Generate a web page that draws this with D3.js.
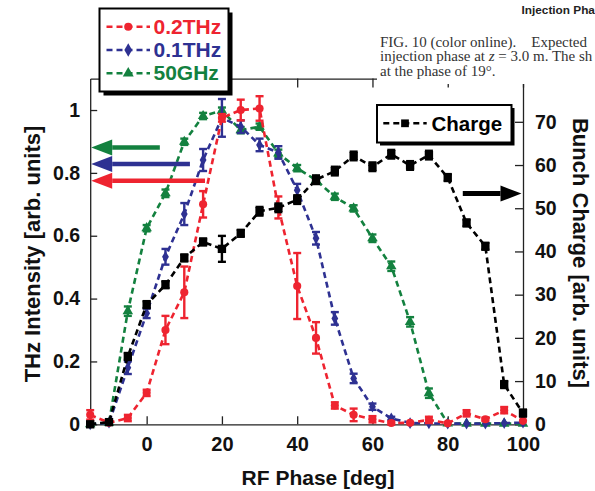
<!DOCTYPE html>
<html><head><meta charset="utf-8">
<script src="https://cdn.jsdelivr.net/npm/d3@7"></script>
<style>
body{margin:0;background:#fff;}
svg{display:block;}
text{font-family:"Liberation Sans",Arial,sans-serif;}
</style></head><body>
<svg id="chart" width="595" height="491"></svg>
<script>
// ---------- data ----------
const phase   = [-15,-10,-5,0,5,10,15,20,25,30,35,40,45,50,55,60,65,70,75,80,85,90,95,100];
const thz02   = [0.03,0.005,0.02,0.10,0.30,0.42,0.70,0.975,1.0,1.005,0.69,0.44,0.275,0.06,0.03,0.016,0.004,0.005,0.014,0.003,0.035,0.016,0.045,0.011];
const thz02Err= [0.015,0,0.01,0.01,0.045,0.082,0.042,0.012,0.033,0.039,0.035,0.105,0.05,0.01,0.02,0.01,0.005,0,0.01,0,0.01,0.005,0.01,0];
const thz01   = [0,0.005,0.18,0.353,0.533,0.669,0.841,0.975,0.947,0.889,0.865,0.745,0.592,0.337,0.146,0.056,0.019,0.004,0.003,0.002,0.002,0.002,0.004,0.005];
const thz01Err= [0,0,0.02,0.015,0.025,0.035,0.035,0.06,0.02,0.02,0.02,0.02,0.02,0.02,0.015,0.01,0.005,0,0,0,0,0,0,0];
const ghz50   = [0,0.005,0.36,0.624,0.735,0.899,0.981,0.998,0.936,0.947,0.862,0.815,0.777,0.724,0.687,0.592,0.503,0.326,0.099,0.003,0.002,0.002,0.002,0.002];
const ghz50Err= [0,0,0.015,0.01,0.012,0.01,0.01,0.01,0.01,0.01,0.012,0.01,0.01,0.01,0.01,0.012,0.015,0.015,0.015,0,0,0,0,0];
const charge  = [0,0.5,15.7,27.7,32.3,38.5,42.2,40.6,44.2,49.3,50.1,52.0,56.6,58.6,62.1,59.6,62.5,59.9,62.3,57.1,46.6,41.2,9.2,2.6];
const chargeErr=[0,0,0.8,0.8,0.8,0.8,0.8,3,0.8,1,1,1,1,1,1,1,1,1,1,0.8,0.8,0.8,0.8,0.8];
const xTicks  = [0,20,40,60,80,100];
const yLTicks = [0,0.2,0.4,0.6,0.8,1];
const yRTicks = [0,10,20,30,40,50,60,70];
const legendLabels = ["0.2THz","0.1THz","50GHz"];
const chargeLabel = "Charge";
// annotation arrows (level in data units, start phase)
const leftArrows = [{level:0.881, from:3.5, c:"green"},{level:0.828, from:11.5, c:"blue"},{level:0.775, from:15.5, c:"red"}];
const rightArrow = {level:53.4, from:84, to:99.6};

const COL = {red:"#ee2430", blue:"#2e3192", green:"#13813f", black:"#000"};

// ---------- scales ----------
const svg=d3.select("#chart");
const x=d3.scaleLinear().domain([-15,100]).range([90.2,523]);
const yL=d3.scaleLinear().domain([0,1.1]).range([424.3,78.6]);
const yR=d3.scaleLinear().domain([0,80]).range([424.3,78.6]);

function styleAxis(g,fs){
  g.attr("font-size",null).attr("font-family",null);
  g.selectAll("path.domain").attr("stroke","#222").attr("stroke-width",1.3);
  g.selectAll(".tick line").attr("stroke","#222").attr("stroke-width",1.3);
  g.selectAll("text").attr("font-size",fs).attr("font-weight","bold").attr("fill","#111")
    .style("font-family","'Liberation Sans',Arial,sans-serif");
}

// axes
const gTop=svg.append("g").attr("transform",`translate(0,${yL(1.1)})`)
  .call(d3.axisTop(x).tickValues(xTicks).tickSizeInner(-9).tickSizeOuter(0).tickFormat(""));
styleAxis(gTop,20);
const gx=svg.append("g").attr("transform",`translate(0,${yL(0)})`)
  .call(d3.axisBottom(x).tickValues(xTicks).tickSizeInner(-8).tickSizeOuter(0).tickPadding(13).tickFormat(d3.format("d")));
styleAxis(gx,20);
const gl=svg.append("g").attr("transform",`translate(${x(-15)},0)`)
  .call(d3.axisLeft(yL).tickValues(yLTicks).tickSizeInner(-7).tickSizeOuter(0).tickPadding(10)
    .tickFormat(d=> d===0?"0":(d===1?"1":d3.format(".1f")(d))));
styleAxis(gl,19.5);
const gr=svg.append("g").attr("transform",`translate(${x(100)},0)`)
  .call(d3.axisRight(yR).tickValues(yRTicks).tickSizeInner(-8).tickSizeOuter(0).tickPadding(12).tickFormat(d3.format("d")));
styleAxis(gr,19.5);

// axis titles
svg.append("text").attr("x",318).attr("y",485).attr("text-anchor","middle")
  .attr("font-size",21).attr("font-weight","bold").attr("fill","#111").text("RF Phase [deg]");
svg.append("text").attr("transform","translate(40,254) rotate(-90)").attr("text-anchor","middle")
  .attr("font-size",22).attr("font-weight","bold").attr("fill","#111").text("THz Intensity [arb. units]");
svg.append("text").attr("transform","translate(573,253) rotate(90)").attr("text-anchor","middle")
  .attr("font-size",22).attr("font-weight","bold").attr("fill","#111").text("Bunch Charge [arb. units]");

// ---------- series ----------
function drawSeries(vals, errs, scale, color, shape, size){
  const g=svg.append("g");
  const line=d3.line().x((d,i)=>x(phase[i])).y(d=>scale(d));
  g.append("path").datum(vals).attr("d",line).attr("fill","none")
    .attr("stroke",color).attr("stroke-width",2.6).attr("stroke-dasharray","6,4");
  const eb=g.append("g").attr("stroke",color).attr("stroke-width",2.4);
  vals.forEach((v,i)=>{
    const e=errs[i]; if(!(e>0)) return;
    const cx=x(phase[i]), y1=scale(v-e), y2=scale(v+e);
    eb.append("line").attr("x1",cx).attr("x2",cx).attr("y1",y1).attr("y2",y2);
    eb.append("line").attr("x1",cx-4).attr("x2",cx+4).attr("y1",y1).attr("y2",y1);
    eb.append("line").attr("x1",cx-4).attr("x2",cx+4).attr("y1",y2).attr("y2",y2);
  });
  g.selectAll("path.m").data(vals).join("path").attr("class","m")
    .attr("transform",(d,i)=>`translate(${x(phase[i])},${scale(d)})`)
    .attr("d",d3.symbol().type(shape).size(size)).attr("fill",color);
}
drawSeries(ghz50, ghz50Err, yL, COL.green, d3.symbolTriangle, 48);
drawSeries(thz01, thz01Err, yL, COL.blue, d3.symbolDiamond, 40);
drawSeries(thz02, thz02Err, yL, COL.red, d3.symbolCircle, 52);
drawSeries(charge, chargeErr, yR, COL.black, d3.symbolSquare, 70);

// ---------- arrows ----------
function arrow(x1,x2,y,color,thick,headLen,headHalf){
  const dir = x2<x1 ? -1 : 1;
  const hb = x2 - dir*headLen;
  svg.append("line").attr("x1",x1).attr("x2",hb).attr("y1",y).attr("y2",y)
    .attr("stroke",color).attr("stroke-width",thick);
  svg.append("path").attr("d",`M${x2},${y} L${hb},${y-headHalf} L${hb},${y+headHalf} Z`).attr("fill",color);
}
leftArrows.forEach(a=> arrow(x(a.from), x(-15)+1, yL(a.level), COL[a.c], 4.5, 21, 8));
arrow(x(rightArrow.from), x(rightArrow.to), yR(rightArrow.level), "#000", 5, 21, 8);

// ---------- legends ----------
function box(x0,y0,w,h,off){
  svg.append("rect").attr("x",x0+off).attr("y",y0+off).attr("width",w).attr("height",h).attr("fill","#000");
  svg.append("rect").attr("x",x0).attr("y",y0).attr("width",w).attr("height",h)
    .attr("fill","#fff").attr("stroke","#000").attr("stroke-width",2);
}
function sample(x1,x2,y,color,shape,size){
  svg.append("line").attr("x1",x1).attr("x2",x2).attr("y1",y).attr("y2",y)
    .attr("stroke",color).attr("stroke-width",2.6).attr("stroke-dasharray","6,4");
  svg.append("path").attr("transform",`translate(${(x1+x2)/2},${y})`)
    .attr("d",d3.symbol().type(shape).size(size)).attr("fill",color);
}
box(99.5,8.5,129,83,4);
const legCols=[COL.red,COL.blue,COL.green];
const legShapes=[d3.symbolCircle,d3.symbolDiamond,d3.symbolTriangle];
const legY=[26.7,50,73.3];
legendLabels.forEach((t,i)=>{
  sample(106.5,150,legY[i],legCols[i],legShapes[i],52);
  svg.append("text").attr("x",153.5).attr("y",legY[i]+7).attr("font-size",21).attr("font-weight","bold")
    .attr("fill",legCols[i]).text(t);
});
box(377,105,134.5,37.5,3);
sample(383.3,426.7,123.3,"#000",d3.symbolSquare,60);
svg.append("text").attr("x",431.5).attr("y",130.8).attr("font-size",20.5).attr("font-weight","bold")
  .attr("fill","#000").text(chargeLabel);

// ---------- overlaid caption (page text) ----------
svg.append("rect").attr("x",377).attr("y",0).attr("width",218).attr("height",84).attr("fill","#fff");
svg.append("text").attr("x",521.5).attr("y",13.5).attr("font-size",11.8).attr("font-weight","bold")
  .attr("fill","#222").text("Injection Pha");
const cap=svg.append("g").attr("fill","#333").attr("font-size",15);
cap.append("text").attr("x",380).attr("y",46.7).style("font-family","'Liberation Serif','Times New Roman',serif")
  .attr("xml:space","preserve").text("FIG. 10 (color online).    Expected");
const l2=cap.append("text").attr("x",380).attr("y",61.2).style("font-family","'Liberation Serif','Times New Roman',serif");
l2.append("tspan").text("injection phase at ");
l2.append("tspan").attr("font-style","italic").text("z");
l2.append("tspan").text(" = 3.0 m. The sh");
cap.append("text").attr("x",380).attr("y",75.7).style("font-family","'Liberation Serif','Times New Roman',serif")
  .text("at the phase of 19°.");
</script>
</body></html>
